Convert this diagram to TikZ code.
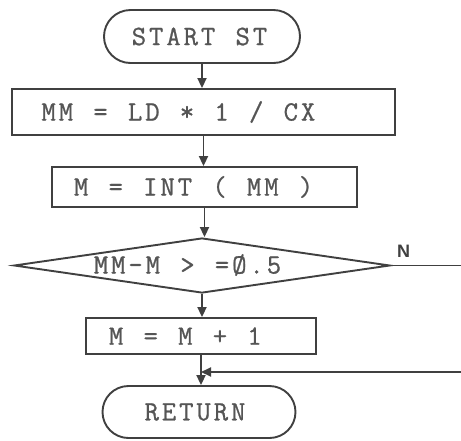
\documentclass[tikz,border=0pt]{standalone}
\usepackage{fontspec}
\newfontfamily\nfont{Liberation Sans}
\newfontfamily\twf{Latin Modern Mono}[FakeBold=0.8]
\usetikzlibrary{shapes.misc,shapes.geometric,arrows.meta}
\definecolor{lc}{HTML}{404040}
\definecolor{tc}{HTML}{555555}
\newcommand\twfont{\twf\fontsize{28}{30}\selectfont}
\ExplSyntaxOn
\NewDocumentCommand\tw{m}{\str_map_inline:nn{#1}{\makebox[17.3pt][c]{##1}}}
\ExplSyntaxOff
\begin{document}
\begin{tikzpicture}[x=1pt,y=-1pt,
  shp/.style={draw=lc, line width=1.9pt, text=tc, inner ysep=0pt, font=\twfont},
  term/.style={shp, rounded rectangle, inner xsep=0pt},
  proc/.style={shp, rectangle, inner xsep=0pt},
  arr/.style={draw=lc, line width=1.9pt, -{Triangle[length=10pt,width=9pt]}},
  ln/.style={draw=lc, line width=1.9pt}
]
\useasboundingbox (0,0) rectangle (461,440);

\node[term, minimum width=196pt, minimum height=53pt] (start) at (202,36.5) {\tw{START ST}\hspace*{5pt}};
\node[proc, minimum height=46pt] (b1) at (203.5,112) {\makebox[383pt][l]{\hspace*{28pt}\tw{MM = LD * 1 / CX}}};
\node[proc, minimum height=40pt] (b2) at (204.5,187) {\makebox[305pt][l]{\hspace*{20.5pt}\tw{M = INT ( MM )}}};
\node[shp, diamond, minimum width=376pt, minimum height=55pt, inner sep=0pt] (dec) at (202,265.5) {};
\node[text=tc, font=\twfont, inner sep=0pt] (dtxt) at (187.5,265) {\tw{MM-M > =Ø.5}};
\node[proc, minimum height=36pt] (b3) at (201,336) {\makebox[230pt][l]{\hspace*{21.5pt}\tw{M = M + 1}}};
\node[term, minimum width=193pt, minimum height=52pt] (ret) at (199,412) {\tw{RETURN}\hspace*{8pt}};
\node[text=lc, font=\nfont\bfseries\fontsize{18}{18}\selectfont, inner sep=0pt] (nlab) at (403.5,251) {N};

\coordinate (nout) at (461,265.5);
\coordinate (rin) at (461,372);

\draw[arr] (start.south) -- (start.south |- b1.north);
\draw[arr] (b1.south) -- (b1.south |- b2.north);
\draw[arr] (b2.south) -- (b2.south |- dec.north);
\draw[arr] (dec.south) -- (dec.south |- b3.north);
\draw[arr] (b3.south) -- (b3.south |- ret.north);
\draw[ln] (dec.east) -- (nout);
\draw[arr] (rin) -- (rin -| b3.south);
\end{tikzpicture}
\end{document}
